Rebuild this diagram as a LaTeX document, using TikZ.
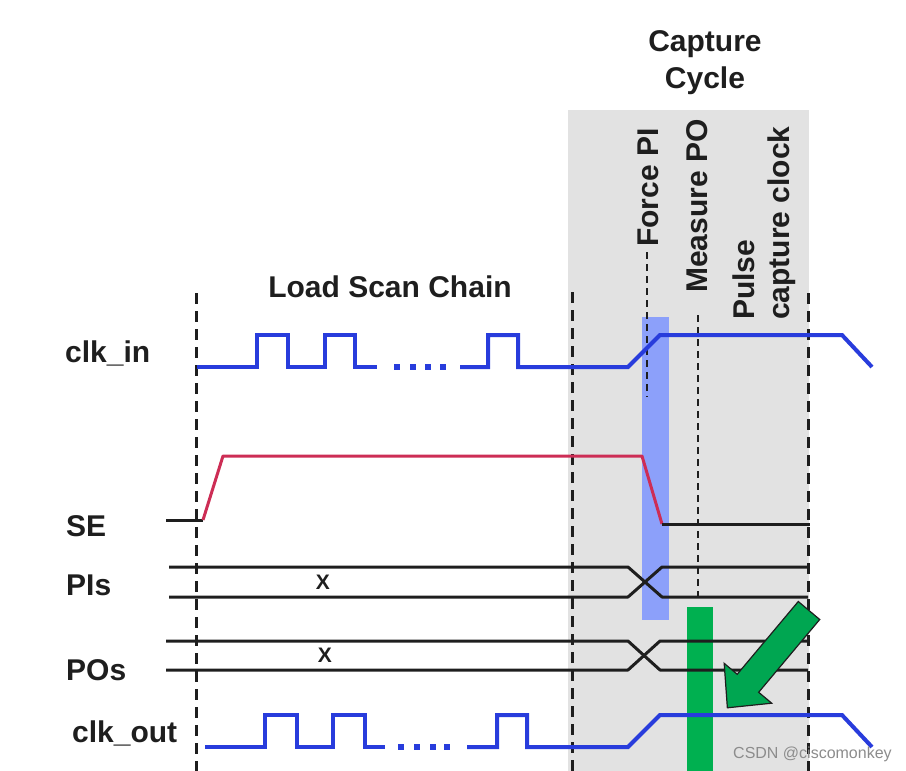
\documentclass[tikz,border=0pt]{standalone}
\usepackage{fontspec}
\setmainfont{Liberation Sans}
\definecolor{clkblue}{RGB}{40,60,220}
\definecolor{sered}{RGB}{205,45,85}
\definecolor{barblue}{RGB}{140,160,250}
\definecolor{bargreen}{RGB}{0,176,80}
\definecolor{arrgreen}{RGB}{0,166,81}
\definecolor{capgray}{RGB}{226,226,226}
\definecolor{ink}{RGB}{30,30,30}
\begin{document}
\begin{tikzpicture}[x=1pt,y=1pt,
  lbl/.style={font=\fontsize{30}{36}\selectfont\bfseries, text=ink, inner sep=0pt},
  xlbl/.style={font=\fontsize{21}{24}\selectfont\bfseries, text=ink, inner sep=0pt},
  clkline/.style={draw=clkblue, line width=4pt, line join=miter},
  sigline/.style={draw=ink, line width=3pt, line join=round},
  redline/.style={draw=sered, line width=3pt, line join=round},
  vdash/.style={draw=ink, line width=3pt, dash pattern=on 11pt off 7pt},
  vdot/.style={draw=ink, line width=2.5pt, dash pattern=on 7pt off 5pt},
  clkdot/.style={fill=clkblue, draw=none, minimum size=6pt, inner sep=0pt, rectangle}]
\useasboundingbox (0,0) rectangle (906,-771);
% capture cycle background
\fill[capgray] (568,-110) rectangle (809,-771);
% highlight bars
\fill[barblue] (642,-317) rectangle (669,-620);
\fill[bargreen] (687,-607) rectangle (713,-771);
% vertical markers
\coordinate (d1t) at (196,-293); \coordinate (d1b) at (196,-771);
\coordinate (d2t) at (572,-292); \coordinate (d2b) at (572,-771);
\coordinate (d3t) at (808,-293); \coordinate (d3b) at (808,-771);
\coordinate (fpt) at (647,-252); \coordinate (fpb) at (647,-397);
\coordinate (mpt) at (698,-315); \coordinate (mpb) at (698,-598);
\draw[vdash] (d1t) -- (d1b);
\draw[vdash] (d2t) -- (d2b);
\draw[vdash] (d3t) -- (d3b);
\draw[vdot] (fpt) -- (fpb);
\draw[vdot] (mpt) -- (mpb);
% titles
\node[lbl, anchor=base] (cap1) at (705,-52) {Capture};
\node[lbl, anchor=base] (cap2) at (705,-88) {Cycle};
\node[lbl, anchor=base] (lsc) at (390,-297) {Load Scan Chain};
\node[lbl, rotate=90, anchor=base west] (fpi) at (658,-247) {Force PI};
\node[lbl, rotate=90, anchor=base west] (mpo) at (707,-293) {Measure PO};
\node[lbl, rotate=90, anchor=base west] (pul) at (754,-320) {Pulse};
\node[lbl, rotate=90, anchor=base west] (pcc) at (789,-320) {capture clock};
% signal labels
\node[lbl, anchor=base west] (lclkin) at (65,-362) {clk\_in};
\node[lbl, anchor=base west] (lse) at (66,-536) {SE};
\node[lbl, anchor=base west] (lpis) at (66,-595) {PIs};
\node[lbl, anchor=base west] (lpos) at (66,-680) {POs};
\node[lbl, anchor=base west] (lclkout) at (72,-742) {clk\_out};
% clk_in
\draw[clkline] (197,-367) -- (257,-367) -- (257,-335) -- (288,-335) -- (288,-367) -- (325,-367) -- (325,-335) -- (355,-335) -- (355,-367) -- (377,-367);
\node[clkdot] (ci1) at (397,-367) {};
\node[clkdot] (ci2) at (413,-367) {};
\node[clkdot] (ci3) at (428,-367) {};
\node[clkdot] (ci4) at (443,-367) {};
\draw[clkline] (460,-367) -- (488,-367) -- (488,-335) -- (518,-335) -- (518,-367) -- (628,-367) -- (660,-335) -- (842,-335) -- (872,-367);
% SE
\draw[sigline] (166,-520) -- (203,-520);
\draw[redline] (203,-520) -- (223,-456) -- (642,-456) -- (662,-524);
\draw[sigline] (662,-524) -- (810,-524);
% PIs
\draw[sigline] (169,-567) -- (628,-567) -- (662,-597) -- (808,-597);
\draw[sigline] (169,-597) -- (628,-597) -- (662,-567) -- (808,-567);
\node[xlbl] (xpi) at (323,-582) {X};
% POs
\draw[sigline] (166,-641) -- (628,-641) -- (660,-670) -- (808,-670);
\draw[sigline] (166,-670) -- (628,-670) -- (660,-641) -- (808,-641);
\node[xlbl] (xpo) at (325,-655) {X};
% clk_out
\draw[clkline] (205,-747) -- (265,-747) -- (265,-715) -- (297,-715) -- (297,-747) -- (333,-747) -- (333,-715) -- (365,-715) -- (365,-747) -- (385,-747);
\node[clkdot] (co1) at (401,-747) {};
\node[clkdot] (co2) at (417,-747) {};
\node[clkdot] (co3) at (433,-747) {};
\node[clkdot] (co4) at (447,-747) {};
\draw[clkline] (467,-747) -- (497,-747) -- (497,-715) -- (527,-715) -- (527,-747) -- (628,-747) -- (660,-715) -- (842,-715) -- (872,-747);
% green block arrow
\begin{scope}[shift={(809,-610.5)}, rotate=230]
\filldraw[fill=arrgreen, draw=ink, line width=1.2pt, line join=miter]
  (0,14) -- (95,14) -- (95,31) -- (127,0) -- (95,-31) -- (95,-14) -- (0,-14) -- cycle;
\end{scope}
% watermark
\node[font=\fontsize{16}{18}\selectfont, text=black!45, anchor=base west, inner sep=0pt] (wm) at (733,-758) {CSDN @ciscomonkey};
\end{tikzpicture}
\end{document}
